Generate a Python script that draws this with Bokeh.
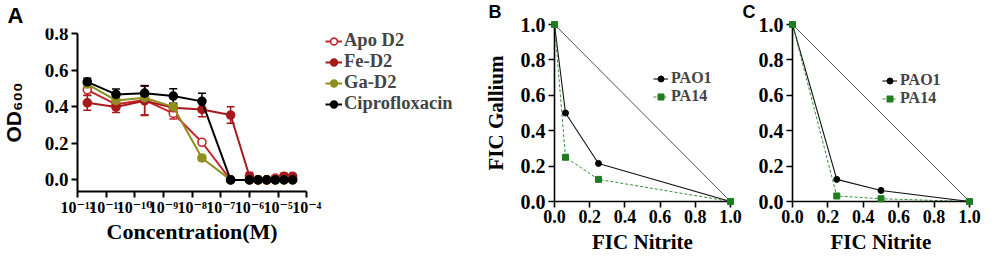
import numpy as np
from bokeh.plotting import figure
from bokeh.layouts import row
from bokeh.models import (ColumnDataSource, Whisker, TeeHead, Legend, LegendItem,
                          FixedTicker, Range1d, PrintfTickFormatter, Label)
from bokeh.embed import file_html
from bokeh.resources import INLINE

# ---------------- data: panel A ----------------
concentration = [2.2e-12, 2.2e-11, 2.2e-10, 2.2e-9, 2.2e-8, 2.2e-7,
                 1e-6, 2e-6, 4e-6, 8e-6, 1.6e-5, 3.2e-5]
apo_d2 = [0.493, 0.414, 0.437, 0.364, 0.206, 0.0, 0.0, 0.0, 0.0, 0.01, 0.015, 0.01]
apo_d2_err = [0.03, 0.02, 0.08, 0.03, 0.01, 0.0, 0.0, 0.0, 0.0, 0.01, 0.02, 0.01]
fe_d2 = [0.422, 0.399, 0.433, 0.395, 0.386, 0.355, 0.02, 0.0, 0.0, 0.0, 0.02, 0.02]
fe_d2_err = [0.04, 0.03, 0.08, 0.02, 0.04, 0.045, 0.02, 0.0, 0.0, 0.0, 0.015, 0.01]
ga_d2 = [0.525, 0.435, 0.45, 0.40, 0.12, 0.0, 0.0, 0.0, 0.0, 0.0, 0.0, 0.0]
ga_d2_err = [0.02, 0.01, 0.01, 0.01, 0.015, 0.0, 0.0, 0.0, 0.0, 0.0, 0.0, 0.0]
ciprofloxacin = [0.537, 0.468, 0.475, 0.459, 0.430, 0.0, 0.0, 0.0, 0.0, 0.0, 0.0, 0.0]
ciprofloxacin_err = [0.02, 0.03, 0.04, 0.04, 0.045, 0.0, 0.0, 0.0, 0.0, 0.0, 0.0, 0.0]
a_x_tick_exponents = [-12, -11, -10, -9, -8, -7, -6, -5, -4]
a_y_ticks = [0.0, 0.2, 0.4, 0.6, 0.8]

# ---------------- data: panel B ----------------
b_pao1_nitrite = [0.0, 0.0625, 0.25, 1.0]
b_pao1_gallium = [1.0, 0.5, 0.215, 0.0]
b_pa14_nitrite = [0.0, 0.0625, 0.25, 1.0]
b_pa14_gallium = [1.0, 0.25, 0.125, 0.0]

# ---------------- data: panel C ----------------
c_pao1_nitrite = [0.0, 0.25, 0.5, 1.0]
c_pao1_gallium = [1.0, 0.125, 0.0625, 0.0]
c_pa14_nitrite = [0.0, 0.25, 0.5, 1.0]
c_pa14_gallium = [1.0, 0.03125, 0.015625, 0.0]

additivity_x = [0.0, 1.0]
additivity_y = [1.0, 0.0]
fic_ticks = [0.0, 0.2, 0.4, 0.6, 0.8, 1.0]

SERIF = "Liberation Serif"
SERIF_SUP = "'Liberation Serif', 'DejaVu Serif'"
SANS = "Liberation Sans"
SUP = str.maketrans("-0123456789", "⁻⁰¹²³⁴⁵⁶⁷⁸⁹")


def base_style(p, axis_w=2):
    try:
        p.frame_align = False
    except Exception:
        pass
    p.outline_line_color = None
    p.grid.visible = False
    p.background_fill_color = "white"
    p.border_fill_color = "white"
    for ax in p.axis:
        ax.axis_line_width = axis_w
        ax.axis_line_color = "black"
        ax.major_tick_line_width = axis_w
        ax.major_tick_out = 6
        ax.major_tick_in = 0
        ax.minor_tick_out = 0
        ax.minor_tick_in = 0
        ax.major_label_text_font = SERIF
        ax.major_label_text_font_style = "bold"
        ax.major_label_text_color = "black"
        ax.axis_label_text_font = SERIF
        ax.axis_label_text_font_style = "bold"
        ax.axis_label_text_color = "black"


def panel_letter(p, letter, offset, size, standoff, valign):
    p.title.text = letter
    p.title.align = "left"
    p.title.vertical_align = valign
    p.title.offset = offset
    p.title.standoff = standoff
    p.title.text_font = SANS
    p.title.text_font_style = "bold"
    p.title.text_font_size = size
    p.title.text_color = "black"


# ================= Panel A =================
# The frame fills the figure except a top strip; both axes are pinned inside it
# (fixed_location) and limited with bounds, so the legend and labels fit in.
ya0 = -0.062
frame_a_top = 28
axis_a_left_px = 77
px_per_unit = (190.7 - 33.3) / (0.8 - ya0)
ya1 = 0.8 + (33.3 - frame_a_top) / px_per_unit
ya_bottom = ya0 - (257 - 190.7) / px_per_unit
decade_px = 28.66
frame_a_w = 480 - 4
a_x_ticks = [10.0 ** e for e in a_x_tick_exponents]
xa_start = 10 ** (a_x_tick_exponents[0] - axis_a_left_px / decade_px)
xa_end = 10 ** (a_x_tick_exponents[0] + (frame_a_w - axis_a_left_px) / decade_px)
pA = figure(width=480, height=257, x_axis_type="log",
            x_range=Range1d(xa_start, xa_end), y_range=Range1d(ya_bottom, ya1),
            output_backend="svg", toolbar_location=None,
            min_border_left=0, min_border_right=4,
            min_border_top=frame_a_top, min_border_bottom=0)
base_style(pA, 2)
pA.yaxis.ticker = FixedTicker(ticks=a_y_ticks)
pA.yaxis.bounds = (ya0, a_y_ticks[-1])
pA.yaxis.fixed_location = a_x_ticks[0]
pA.yaxis.formatter = PrintfTickFormatter(format="%.1f")
pA.yaxis.major_label_text_font_size = "19px"
pA.yaxis.major_label_standoff = 3
pA.xaxis.ticker = FixedTicker(ticks=a_x_ticks, minor_ticks=[])
pA.xaxis.bounds = (a_x_ticks[0], a_x_ticks[-1])
pA.xaxis.fixed_location = ya0
pA.xaxis.major_label_overrides = {t: "10" + str(e).translate(SUP)
                                  for t, e in zip(a_x_ticks, a_x_tick_exponents)}
pA.xaxis.major_label_text_font = SERIF_SUP
pA.xaxis.major_label_text_font_size = "16px"
pA.xaxis.major_label_standoff = 2
x_mid = 10.0 ** ((a_x_tick_exponents[0] + a_x_tick_exponents[-1]) / 2)
pA.add_layout(Label(x=x_mid, y=ya0, y_offset=-28, text="Concentration(M)",
                    text_align="center", text_baseline="top",
                    text_font=SERIF, text_font_style="bold", text_font_size="22px",
                    text_color="black"))
y_mid = (ya0 + a_y_ticks[-1]) / 2
pA.add_layout(Label(x=a_x_ticks[0], y=y_mid, x_offset=-64, text="OD₆₀₀",
                    angle=np.pi / 2, text_align="center", text_baseline="middle",
                    text_font=SANS, text_font_style="bold", text_font_size="21px",
                    text_color="black"))
panel_letter(pA, "A", 7, "22px", 1, "bottom")

series = [
    ("Apo D2", apo_d2, apo_d2_err, "#C4262B", "white"),
    ("Fe-D2", fe_d2, fe_d2_err, "#A8191C", "#A8191C"),
    ("Ga-D2", ga_d2, ga_d2_err, "#8F8F1F", "#8F8F1F"),
    ("Ciprofloxacin", ciprofloxacin, ciprofloxacin_err, "#000000", "#000000"),
]
legend_items = []
for name, vals, errs, col, fill in series:
    ex = [c for c, e in zip(concentration, errs) if e > 0]
    ev = [v for v, e in zip(vals, errs) if e > 0]
    ee = [e for e in errs if e > 0]
    wsrc = ColumnDataSource(dict(x=ex, upper=[v + e for v, e in zip(ev, ee)],
                                 lower=[v - e for v, e in zip(ev, ee)]))
    pA.add_layout(Whisker(source=wsrc, base="x", upper="upper", lower="lower",
                          dimension="height", line_color=col, line_width=1.5,
                          upper_head=TeeHead(size=8, line_color=col, line_width=1.5),
                          lower_head=TeeHead(size=8, line_color=col, line_width=1.5)))
for name, vals, errs, col, fill in series:
    src = ColumnDataSource(dict(x=concentration, y=vals))
    lr = pA.line("x", "y", source=src, line_color=col, line_width=2)
    sr = pA.scatter("x", "y", source=src, marker="circle", size=8,
                    line_color=col, fill_color=fill, line_width=1.6)
    legend_items.append(LegendItem(label=name, renderers=[lr, sr]))

legA = Legend(items=legend_items, location=(325, 143), padding=0, margin=0,
              spacing=0, label_height=20, glyph_height=20, glyph_width=17,
              label_standoff=2, label_text_font=SERIF, label_text_font_style="bold",
              label_text_font_size="18.5px", border_line_color=None,
              background_fill_alpha=0)
pA.add_layout(legA)


# ================= Panels B, C =================
def fic_panel(width, left, right, pao1_x, pao1_y, pa14_x, pa14_y, ylabel, leg_loc):
    p = figure(width=width, height=257, x_range=Range1d(0, 1), y_range=Range1d(0, 1),
               output_backend="svg", toolbar_location=None,
               min_border_left=left, min_border_right=right,
               min_border_top=24, min_border_bottom=56)
    base_style(p, 1.6)
    for ax in p.axis:
        ax.ticker = FixedTicker(ticks=fic_ticks)
        ax.formatter = PrintfTickFormatter(format="%.1f")
    p.yaxis.major_label_text_font_size = "20px"
    p.yaxis.major_label_standoff = 3
    p.xaxis.major_label_text_font_size = "18px"
    p.xaxis.major_label_standoff = 2
    p.xaxis.axis_label = "FIC Nitrite"
    p.xaxis.axis_label_text_font_size = "21px"
    p.xaxis.axis_label_standoff = 4
    if ylabel:
        p.yaxis.axis_label = ylabel
        p.yaxis.axis_label_text_font_size = "21px"
        p.yaxis.axis_label_standoff = 10

    p.line(additivity_x, additivity_y, line_color="#555555", line_width=1)
    l1 = p.line(pao1_x, pao1_y, line_color="#111111", line_width=1.1)
    s1 = p.scatter(pao1_x, pao1_y, marker="circle", size=6, color="black", level="overlay")
    l2 = p.line(pa14_x, pa14_y, line_color="#3C8C3C", line_width=1, line_dash="3 2")
    s2 = p.scatter(pa14_x, pa14_y, marker="square", size=6, color="#1E7E1E", level="overlay")
    leg = Legend(items=[LegendItem(label="PAO1", renderers=[l1, s1]),
                        LegendItem(label="PA14", renderers=[l2, s2])],
                 location=leg_loc, padding=0, margin=0, spacing=0,
                 label_height=17, glyph_height=17, glyph_width=15, label_standoff=3,
                 label_text_font=SERIF, label_text_font_style="bold",
                 label_text_font_size="16px", border_line_color=None,
                 background_fill_alpha=0)
    p.add_layout(leg)
    return p


pB = fic_panel(262, 74, 12, b_pao1_nitrite, b_pao1_gallium,
               b_pa14_nitrite, b_pa14_gallium, "FIC Gallium", (99, 96))
pC = fic_panel(254, 50, 27, c_pao1_nitrite, c_pao1_gallium,
               c_pa14_nitrite, c_pa14_gallium, None, (90, 94))
panel_letter(pB, "B", -66, "18px", 2, "top")
panel_letter(pC, "C", -50, "18px", 2, "top")

layout = row(pA, pB, pC, spacing=0)
open("out.html", "w").write(file_html(layout, INLINE))
